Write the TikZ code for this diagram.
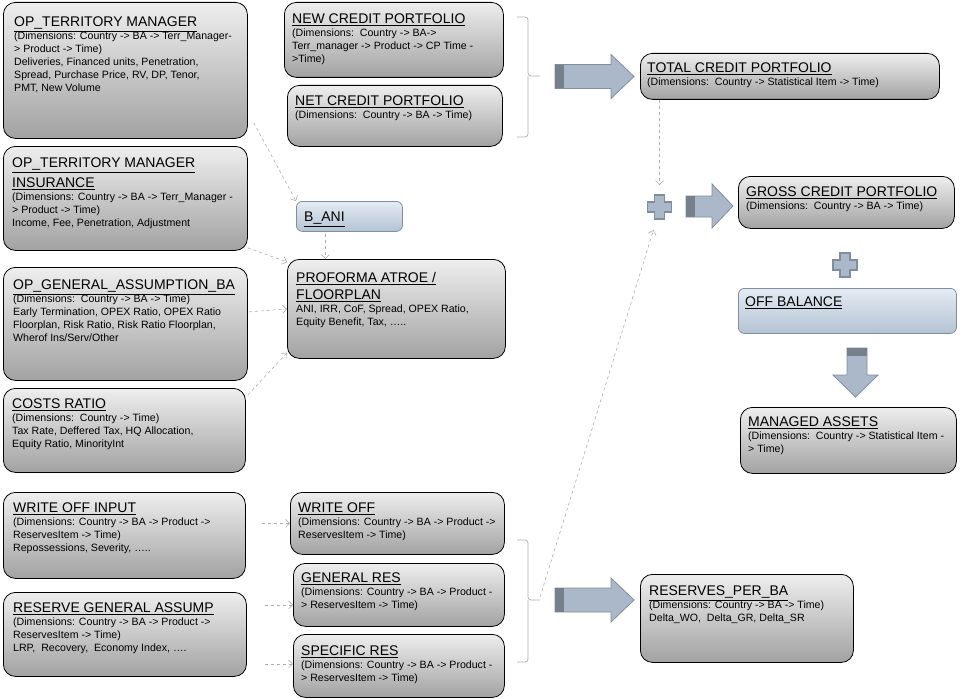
\documentclass[tikz,border=0pt]{standalone}
\usepackage{fontspec}
\setmainfont{Liberation Sans}
\usetikzlibrary{arrows.meta}

\definecolor{boxtop}{RGB}{238,238,238}
\definecolor{boxbot}{RGB}{162,162,162}
\definecolor{bluetop}{RGB}{228,235,243}
\definecolor{bluebot}{RGB}{180,195,212}
\definecolor{blueedge}{RGB}{128,143,160}
\definecolor{arrfill}{RGB}{170,184,201}
\definecolor{arredge}{RGB}{128,141,156}
\definecolor{arrdark}{RGB}{118,128,140}
\definecolor{linkgray}{RGB}{172,172,172}

\newcommand{\boxtitle}[1]{{\fontsize{14}{17}\selectfont\underline{#1}}}

\begin{document}
\begin{tikzpicture}[x=1pt, y=-1pt,
    box/.style={draw=black, line width=0.8pt, rounded corners=12pt,
      top color=boxtop, bottom color=boxbot, anchor=north west, inner sep=0pt},
    bluebox/.style={box, draw=blueedge, top color=bluetop, bottom color=bluebot,
      rounded corners=6pt},
    txt/.style={anchor=north west, inner sep=0pt, align=left,
      font=\fontsize{10.6}{13}\selectfont},
    link/.style={draw=linkgray, dashed, line width=0.6pt,
      -{Straight Barb[length=4pt,width=8pt]}},
    curly/.style={draw=linkgray, line width=0.7pt, rounded corners=3pt},
    bigarrow/.style={fill=arrfill, draw=arredge, line width=0.8pt},
    plussign/.style={fill=arrfill, draw=arredge, line width=1.5pt}]

  \useasboundingbox (0,0) rectangle (960,698);

  % Coluna da esquerda
  \node[box, minimum width=244pt, minimum height=136pt] (terr) at (3,2) {};
  \node[txt] (terrtxt) at ([shift={(11pt,-15pt)}]terr.north west)
    {\boxtitle{OP\_TERRITORY MANAGER}\\
     (Dimensions: Country -> BA -> Terr\_Manager-\\
     > Product -> Time)\\
     Deliveries, Financed units, Penetration,\\
     Spread, Purchase Price, RV, DP, Tenor,\\
     PMT, New Volume};

  \node[box, minimum width=244pt, minimum height=104pt] (ins) at (3,146) {};
  \node[txt] (instxt) at ([shift={(9pt,-12pt)}]ins.north west)
    {\boxtitle{OP\_TERRITORY MANAGER}\\[4pt]
     \boxtitle{INSURANCE}\\
     (Dimensions: Country -> BA -> Terr\_Manager -\\
     > Product -> Time)\\
     Income, Fee, Penetration, Adjustment};

  \node[box, minimum width=244pt, minimum height=113pt] (gen) at (3,267) {};
  \node[txt] (gentxt) at ([shift={(10pt,-13pt)}]gen.north west)
    {\boxtitle{OP\_GENERAL\_ASSUMPTION\_BA}\\
     (Dimensions:\ ~Country -> BA -> Time)\\
     Early Termination, OPEX Ratio, OPEX Ratio\\
     Floorplan, Risk Ratio, Risk Ratio Floorplan,\\
     Wherof Ins/Serv/Other};

  \node[box, minimum width=242pt, minimum height=84pt] (costs) at (3,388) {};
  \node[txt] (coststxt) at ([shift={(9pt,-11pt)}]costs.north west)
    {\boxtitle{COSTS RATIO}\\
     (Dimensions:\ ~Country -> Time)\\
     Tax Rate, Deffered Tax, HQ Allocation,\\
     Equity Ratio, MinorityInt};

  \node[box, minimum width=242pt, minimum height=86pt] (woinp) at (3,492) {};
  \node[txt] (woinptxt) at ([shift={(10pt,-11pt)}]woinp.north west)
    {\boxtitle{WRITE OFF INPUT}\\
     (Dimensions: Country -> BA -> Product ->\\
     ReservesItem -> Time)\\
     Repossessions, Severity, …..};

  \node[box, minimum width=243pt, minimum height=84pt] (resinp) at (3,592) {};
  \node[txt] (resinptxt) at ([shift={(10pt,-11pt)}]resinp.north west)
    {\boxtitle{RESERVE GENERAL ASSUMP}\\
     (Dimensions: Country -> BA -> Product ->\\
     ReservesItem -> Time)\\
     LRP,\ ~Recovery,\ ~Economy Index, ….};

  % Coluna do meio
  \node[box, minimum width=219pt, minimum height=75pt] (newcp) at (284,2) {};
  \node[txt] (newcptxt) at ([shift={(8pt,-12pt)}]newcp.north west)
    {\boxtitle{NEW CREDIT PORTFOLIO}\\
     (Dimensions:\ ~Country -> BA->\\
     Terr\_manager -> Product -> CP Time -\\
     >Time)};

  \node[box, minimum width=215pt, minimum height=61pt] (netcp) at (287,85) {};
  \node[txt] (netcptxt) at ([shift={(8pt,-11pt)}]netcp.north west)
    {\boxtitle{NET CREDIT PORTFOLIO}\\
     (Dimensions:\ ~Country -> BA -> Time)};

  \node[bluebox, minimum width=106pt, minimum height=30pt] (bani) at (296,201) {};
  \node[txt] (banitxt) at ([shift={(8pt,-11pt)}]bani.north west)
    {\boxtitle{B\_ANI}};

  \node[box, minimum width=218pt, minimum height=99pt] (proforma) at (287,259) {};
  \node[txt] (proformatxt) at ([shift={(9pt,-13pt)}]proforma.north west)
    {\boxtitle{PROFORMA ATROE /}\\[4pt]
     \boxtitle{FLOORPLAN}\\
     ANI, IRR, CoF, Spread, OPEX Ratio,\\
     Equity Benefit, Tax, …..};

  \node[box, minimum width=214pt, minimum height=62pt] (wo) at (290,492) {};
  \node[txt] (wotxt) at ([shift={(8pt,-11pt)}]wo.north west)
    {\boxtitle{WRITE OFF}\\
     (Dimensions: Country -> BA -> Product ->\\
     ReservesItem -> Time)};

  \node[box, minimum width=211pt, minimum height=63pt] (genres) at (293,563) {};
  \node[txt] (genrestxt) at ([shift={(8pt,-10pt)}]genres.north west)
    {\boxtitle{GENERAL RES}\\
     (Dimensions: Country -> BA -> Product -\\
     > ReservesItem -> Time)};

  \node[box, minimum width=211pt, minimum height=63pt] (specres) at (293,634) {};
  \node[txt] (specrestxt) at ([shift={(8pt,-12pt)}]specres.north west)
    {\boxtitle{SPECIFIC RES}\\
     (Dimensions: Country -> BA -> Product -\\
     > ReservesItem -> Time)};

  % Coluna da direita
  \node[box, minimum width=299pt, minimum height=46pt] (total) at (640,53) {};
  \node[txt] (totaltxt) at ([shift={(7pt,-10pt)}]total.north west)
    {\boxtitle{TOTAL CREDIT PORTFOLIO}\\
     (Dimensions:\ ~Country -> Statistical Item -> Time)};

  \node[box, minimum width=216pt, minimum height=52pt] (gross) at (738,176) {};
  \node[txt] (grosstxt) at ([shift={(8pt,-11pt)}]gross.north west)
    {\boxtitle{GROSS CREDIT PORTFOLIO}\\
     (Dimensions:\ ~Country -> BA -> Time)};

  \node[bluebox, minimum width=218pt, minimum height=45pt] (offbal) at (738,288) {};
  \node[txt] (offbaltxt) at ([shift={(7pt,-9pt)}]offbal.north west)
    {\boxtitle{OFF BALANCE}};

  \node[box, minimum width=216pt, minimum height=66pt] (managed) at (740,407) {};
  \node[txt] (managedtxt) at ([shift={(8pt,-10pt)}]managed.north west)
    {\boxtitle{MANAGED ASSETS}\\
     (Dimensions:\ ~Country -> Statistical Item -\\
     > Time)};

  \node[box, minimum width=213pt, minimum height=88pt] (resba) at (640,574) {};
  \node[txt] (resbatxt) at ([shift={(9pt,-12pt)}]resba.north west)
    {\boxtitle{RESERVES\_PER\_BA}\\
     (Dimensions: Country -> BA -> Time)\\
     Delta\_WO,\ ~Delta\_GR, Delta\_SR};

  % Chaves
  \draw[curly] (517,17) -- (528,17) -- (528,76) -- (540,76);
  \draw[curly] (528,76) -- (528,137) -- (517,137);
  \draw[curly] (517,540) -- (528,540) -- (528,600) -- (540,600);
  \draw[curly] (528,600) -- (528,662) -- (517,662);
  \coordinate (resbrace) at (540,600);

  % Setas grandes
  \foreach \y in {76.5,600} {
    \draw[bigarrow] (555,\y-12) -- (611,\y-12) -- (611,\y-22) -- (634,\y)
      -- (611,\y+22) -- (611,\y+12) -- (555,\y+12) -- cycle;
    \fill[arrdark] (555.4,\y-11.6) rectangle (564,\y+11.6);
  }
  \draw[bigarrow] (686,196) -- (712,196) -- (712,184) -- (733,206)
    -- (712,228) -- (712,217) -- (686,217) -- cycle;
  \fill[arrdark] (686.4,196.4) rectangle (695,216.6);
  \draw[bigarrow] (847,348) -- (867,348) -- (867,375) -- (878,375)
    -- (855.5,397) -- (833,375) -- (847,375) -- cycle;
  \fill[arrdark] (847.4,348.4) rectangle (866.6,356);

  % Sinais de mais
  \foreach \cx/\cy in {659.5/207, 845/265} {
    \draw[plussign] (\cx-5,\cy-12) -- (\cx+5,\cy-12) -- (\cx+5,\cy-5)
      -- (\cx+12,\cy-5) -- (\cx+12,\cy+5) -- (\cx+5,\cy+5) -- (\cx+5,\cy+12)
      -- (\cx-5,\cy+12) -- (\cx-5,\cy+5) -- (\cx-12,\cy+5) -- (\cx-12,\cy-5)
      -- (\cx-5,\cy-5) -- cycle;
  }
  \coordinate (plusA) at (659.5,207);
  \coordinate (plusB) at (845,265);

  % Ligacoes tracejadas
  \draw[link] ([shift={(6pt,16pt)}]terr.south east) -- (bani.north west);
  \draw[link] ([yshift=3pt]ins.south east) -- ([yshift=-3pt]proforma.north west);
  \draw[link, shorten <=2pt] ([xshift=-24pt]bani.south)
    -- ([xshift=-24pt]bani.south |- proforma.north);
  \draw[link] ([shift={(1pt,12pt)}]gen.east) -- (proforma.west);
  \draw[link] ([shift={(2pt,-7pt)}]costs.north east) -- ([yshift=6pt]proforma.south west);
  \draw[link] ([xshift=-28pt]wo.west) -- (wo.west);
  \draw[link] ([shift={(-28pt,-10pt)}]genres.west) -- ([yshift=-10pt]genres.west);
  \draw[link] ([shift={(-28pt,2pt)}]specres.west) -- ([yshift=2pt]specres.west);
  \draw[link] (total.south -| plusA) -- ([yshift=22pt]plusA);
  \draw[link] ([yshift=3pt]resbrace) -- ([shift={(-6pt,-23pt)}]plusA);
\end{tikzpicture}
\end{document}
